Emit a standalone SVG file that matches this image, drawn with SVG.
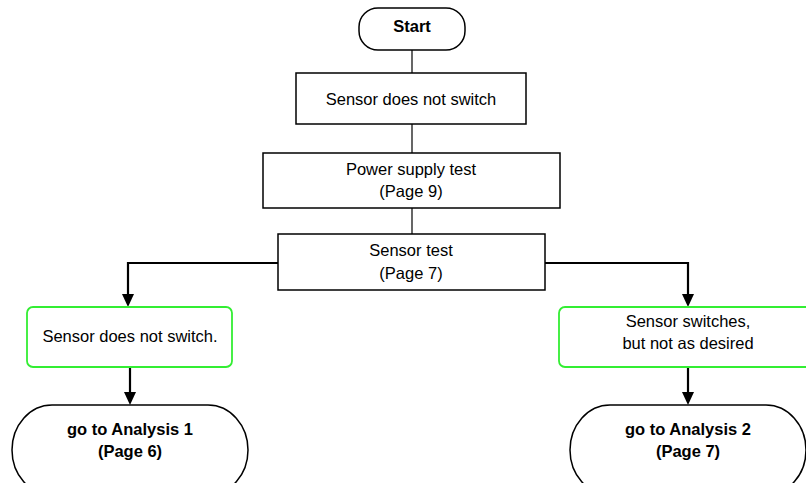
<svg xmlns="http://www.w3.org/2000/svg" width="806" height="483" viewBox="0 0 806 483">
<style>
  text { font-family: "Liberation Sans", Arial, sans-serif; font-size: 16.5px; fill: #000; text-anchor: middle; }
  .b { font-weight: bold; }
  .box { fill: #fff; stroke: #000; stroke-width: 1.5; }
  .green { fill: #fff; stroke: #33ee33; stroke-width: 1.8; }
  .thin { stroke: #000; stroke-width: 1.2; fill: none; }
  .thick { stroke: #000; stroke-width: 2.2; fill: none; }
</style>
<defs>
  <marker id="arr" viewBox="0 0 13 12" refX="9" refY="6" markerWidth="13" markerHeight="12" markerUnits="userSpaceOnUse" orient="auto">
    <path d="M0,0 L13,6 L0,12 z" fill="#000"/>
  </marker>
</defs>
<rect width="806" height="483" fill="#fff"/>
<g id="connectors">
  <line class="thin" x1="412" y1="50" x2="412" y2="73"/>
  <line class="thin" x1="412" y1="124" x2="412" y2="153"/>
  <line class="thin" x1="412" y1="208" x2="412" y2="234"/>
  <polyline class="thick" points="278,263 128,263 128,303" marker-end="url(#arr)"/>
  <polyline class="thick" points="545,263 688,263 688,303" marker-end="url(#arr)"/>
  <line class="thick" x1="130" y1="367" x2="130" y2="401" marker-end="url(#arr)"/>
  <line class="thick" x1="688" y1="367" x2="688" y2="401" marker-end="url(#arr)"/>
</g>
<g id="start">
  <rect class="box" x="359" y="8" width="106" height="42" rx="19" ry="19"/>
  <text class="b" x="412" y="32">Start</text>
</g>
<g id="box1">
  <rect class="box" x="296" y="73" width="230" height="51"/>
  <text x="411" y="105">Sensor does not switch</text>
</g>
<g id="box2">
  <rect class="box" x="263" y="153" width="297" height="55"/>
  <text x="411" y="175">Power supply test</text>
  <text x="411" y="197">(Page 9)</text>
</g>
<g id="box3">
  <rect class="box" x="278" y="234" width="267" height="56"/>
  <text x="411" y="256">Sensor test</text>
  <text x="411" y="279">(Page 7)</text>
</g>
<g id="green1">
  <rect class="green" x="27" y="307" width="205" height="60" rx="6" ry="6"/>
  <text x="130" y="342">Sensor does not switch.</text>
</g>
<g id="green2">
  <rect class="green" x="559" y="307" width="258" height="60" rx="6" ry="6"/>
  <text x="688" y="327">Sensor switches,</text>
  <text x="688" y="349">but not as desired</text>
</g>
<g id="term1">
  <rect class="box" x="12" y="405" width="236" height="90" rx="40" ry="45"/>
  <text class="b" x="130" y="435">go to Analysis 1</text>
  <text class="b" x="130" y="457">(Page 6)</text>
</g>
<g id="term2">
  <rect class="box" x="570" y="405" width="236" height="90" rx="40" ry="45"/>
  <text class="b" x="688" y="435">go to Analysis 2</text>
  <text class="b" x="688" y="457">(Page 7)</text>
</g>
</svg>
